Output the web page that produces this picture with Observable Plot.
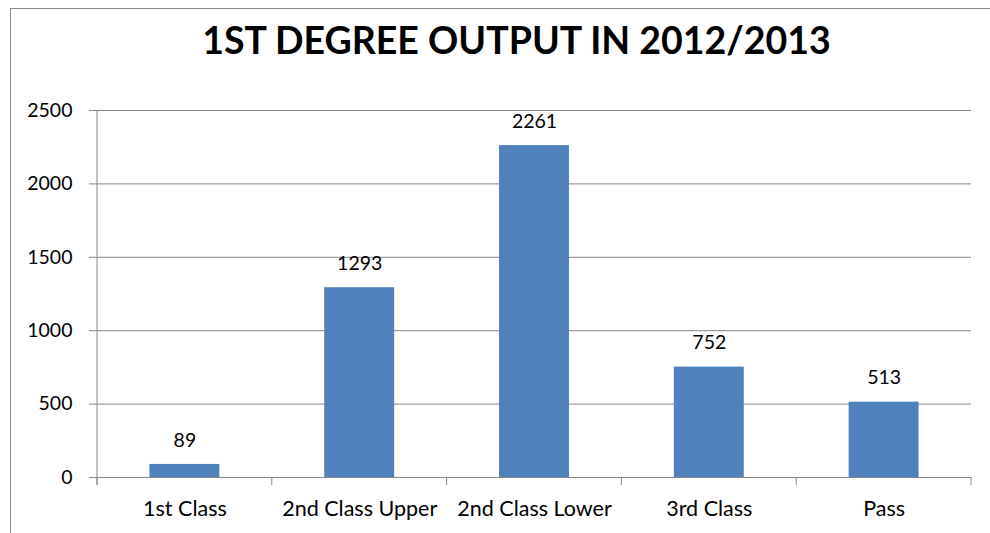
<!DOCTYPE html>
<html>
<head>
<meta charset="utf-8">
<script src="https://cdn.jsdelivr.net/npm/d3@7"></script>
<script src="https://cdn.jsdelivr.net/npm/@observablehq/plot@0.6"></script>
<style>
  html, body { margin: 0; padding: 0; background: #fff; }
  #wrap { position: relative; width: 990px; height: 533px; overflow: hidden; font-family: Lato, "Open Sans", sans-serif; }
  #frame { position: absolute; left: 10px; top: 8px; width: 990px; height: 600px; border-left: 1px solid #8a8a8a; border-top: 1px solid #8a8a8a; box-sizing: border-box; }
  #title { position: absolute; left: 0; top: 16px; width: 1033px; text-align: center; font-weight: 700; font-size: 37.5px; color: #000; line-height: 48px; }
  #chart { position: absolute; left: 0; top: 80px; }
</style>
</head>
<body>
<div id="wrap">
  <div id="frame"></div>
  <div id="title">1ST DEGREE OUTPUT IN 2012/2013</div>
  <div id="chart"></div>
</div>
<script>
const categories = ["1st Class", "2nd Class Upper", "2nd Class Lower", "3rd Class", "Pass"];
const values = [89, 1293, 2261, 752, 513];
const yTicks = [0, 500, 1000, 1500, 2000, 2500];

const data = categories.map((c, i) => ({category: c, value: values[i]}));
const gray = "#868686";

function boundaryTicks(index, scales, vals, dims) {
  const x = scales.x, y = scales.y;
  const step = x(categories[1]) - x(categories[0]);
  const y0 = y(0);
  const g = d3.create("svg:g");
  for (let i = 0; i <= categories.length; i++) {
    const px = dims.marginLeft + i * step;
    g.append("line").attr("x1", px).attr("x2", px).attr("y1", y0).attr("y2", y0 + 8)
      .attr("stroke", gray).attr("stroke-width", 1);
  }
  g.append("line").attr("x1", dims.marginLeft).attr("x2", dims.marginLeft)
    .attr("y1", y(yTicks[yTicks.length - 1])).attr("y2", y0 + 8)
    .attr("stroke", gray).attr("stroke-width", 1);
  return g.node();
}

const plot = Plot.plot({
  width: 990,
  height: 453,
  marginTop: 30,
  marginLeft: 97,
  marginRight: 19,
  marginBottom: 56,
  style: {fontFamily: "Lato, 'Open Sans', sans-serif", fontSize: "20px", color: "#000", background: "transparent", overflow: "visible"},
  x: {domain: categories, paddingInner: 0.6, paddingOuter: 0.3, round: false, label: null},
  y: {domain: [0, 2500], label: null},
  marks: [
    Plot.gridY(yTicks, {stroke: gray, strokeOpacity: 1, strokeWidth: 1, insetLeft: -8}),
    Plot.axisY({ticks: yTicks, tickSize: 0, tickPadding: 25, fontSize: 19.5, tickFormat: d => String(d), fill: "#000"}),
    Plot.axisX({tickSize: 0, tickPadding: 23, fontSize: 21.5, fill: "#000"}),
    Plot.barY(data, {x: "category", y: "value", fill: "#4F81BD"}),
    Plot.text(data, {x: "category", y: "value", text: d => String(d.value), dy: -24, lineAnchor: "middle", fontSize: 19.5, fill: "#000"}),
    boundaryTicks
  ]
});
document.getElementById("chart").appendChild(plot);
</script>
</body>
</html>
